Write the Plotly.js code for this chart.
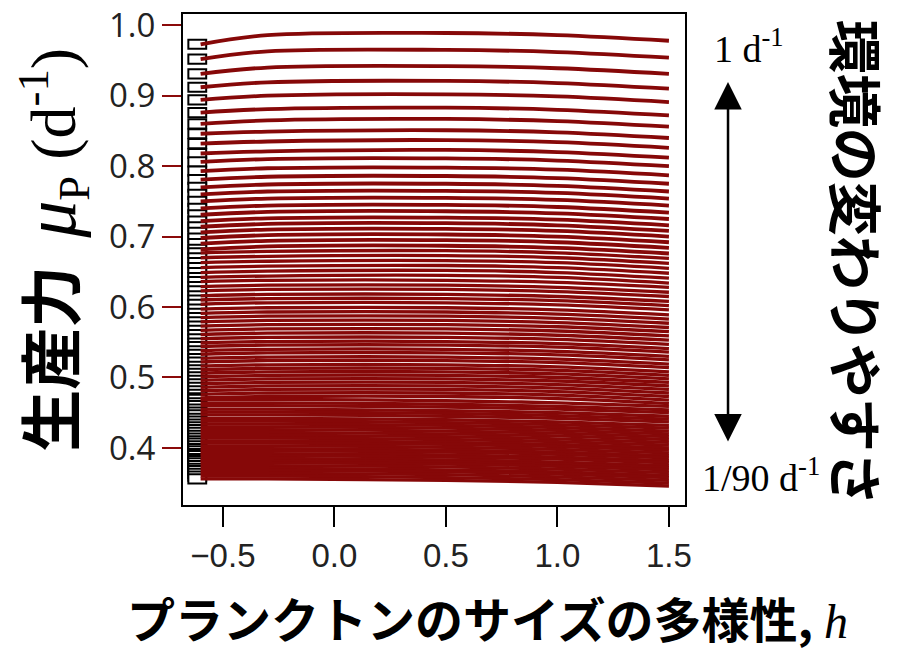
<!DOCTYPE html>
<html>
<head>
<meta charset="utf-8">
<script src="https://cdn.plot.ly/plotly-3.0.1.min.js"></script>
<style>html,body{margin:0;padding:0;background:#fff;}#chart{width:897px;height:651px;}</style>
</head>
<body>
<div id="chart"></div>
<script>
// diversity h at which each curve is sampled
const hValues = [-0.6, -0.3, 0.5, 1.0, 1.5];

// productivity mu_P of each curve (one entry per environmental period, 1 d^-1 ... 1/90 d^-1)
const muAtHm06 = [0.973,0.952,0.931,0.912,0.894,0.876,0.860,0.846,0.832,0.818,0.806,0.793,0.781,0.770,0.760,0.750,0.740,0.731,0.722,0.714,0.706,0.698,0.690,0.682,
0.677,0.670,0.663,0.656,0.649,0.642,0.636,0.629,0.623,0.616,0.610,0.604,0.597,0.591,0.585,0.579,0.573,0.567,0.561,0.555,0.549,0.544,0.538,0.533,0.527,0.522,
0.516,0.511,0.506,0.501,0.496,0.491,0.486,0.481,0.476,0.471,0.469,0.464,0.460,0.455,0.451,0.447,0.442,0.438,0.434,0.430,0.426,0.422,0.418,0.414,0.410,0.407,
0.403,0.399,0.396,0.392,0.389,0.385,0.382,0.379,0.375,0.371,0.368,0.364,0.360,0.356];
const muAtHm03 = [0.986,0.963,0.940,0.919,0.900,0.881,0.865,0.849,0.835,0.821,0.810,0.797,0.785,0.774,0.764,0.754,0.744,0.735,0.726,0.718,0.710,0.702,0.694,0.686,
0.679,0.672,0.665,0.658,0.651,0.644,0.638,0.631,0.625,0.618,0.612,0.606,0.599,0.593,0.587,0.581,0.575,0.569,0.563,0.557,0.551,0.546,0.540,0.535,0.529,0.524,
0.518,0.513,0.508,0.503,0.498,0.493,0.488,0.483,0.478,0.473,0.469,0.464,0.460,0.455,0.451,0.447,0.442,0.438,0.434,0.430,0.426,0.422,0.418,0.414,0.410,0.407,
0.403,0.399,0.396,0.392,0.389,0.385,0.382,0.379,0.375,0.371,0.368,0.364,0.360,0.356];
const muAtH05 = [0.989,0.965,0.942,0.921,0.902,0.883,0.867,0.851,0.837,0.823,0.811,0.798,0.786,0.775,0.765,0.755,0.745,0.736,0.727,0.719,0.711,0.703,0.695,0.687,
0.680,0.673,0.666,0.659,0.652,0.645,0.638,0.631,0.625,0.618,0.612,0.606,0.599,0.593,0.587,0.581,0.575,0.569,0.563,0.557,0.551,0.546,0.540,0.535,0.529,0.524,
0.518,0.513,0.508,0.503,0.498,0.493,0.488,0.483,0.478,0.473,0.467,0.462,0.458,0.453,0.449,0.445,0.440,0.436,0.432,0.428,0.424,0.420,0.416,0.412,0.408,0.405,
0.401,0.397,0.394,0.390,0.387,0.383,0.380,0.377,0.373,0.369,0.366,0.362,0.358,0.354];
const muAtH10 = [0.986,0.962,0.939,0.918,0.899,0.880,0.864,0.848,0.834,0.820,0.808,0.795,0.783,0.772,0.762,0.752,0.742,0.733,0.724,0.716,0.708,0.700,0.692,0.684,
0.677,0.670,0.663,0.656,0.649,0.642,0.635,0.628,0.622,0.615,0.609,0.603,0.596,0.590,0.584,0.578,0.572,0.566,0.560,0.554,0.548,0.543,0.537,0.532,0.526,0.521,
0.515,0.510,0.505,0.500,0.495,0.490,0.485,0.480,0.475,0.470,0.464,0.459,0.455,0.450,0.446,0.442,0.437,0.433,0.429,0.425,0.421,0.417,0.413,0.409,0.405,0.402,
0.398,0.394,0.391,0.387,0.384,0.380,0.377,0.374,0.370,0.366,0.363,0.359,0.355,0.351];
const muAtH15 = [0.978,0.954,0.931,0.910,0.891,0.872,0.856,0.840,0.826,0.812,0.800,0.787,0.775,0.764,0.754,0.744,0.734,0.725,0.716,0.708,0.700,0.692,0.684,0.676,
0.669,0.662,0.655,0.648,0.641,0.634,0.628,0.621,0.615,0.608,0.602,0.596,0.589,0.583,0.577,0.571,0.565,0.559,0.553,0.547,0.541,0.536,0.530,0.525,0.519,0.514,
0.508,0.503,0.498,0.493,0.488,0.483,0.478,0.473,0.468,0.463,0.459,0.454,0.450,0.445,0.441,0.437,0.432,0.428,0.424,0.420,0.416,0.412,0.408,0.404,0.400,0.397,
0.393,0.389,0.386,0.382,0.379,0.375,0.372,0.369,0.365,0.361,0.358,0.354,0.350,0.346];

const xTickVals = [-0.5, 0.0, 0.5, 1.0, 1.5];
const yTickVals = [0.4, 0.5, 0.6, 0.7, 0.8, 0.9, 1.0];

const traces = [];
// column of small boxes at the start of every curve
traces.push({
  type: 'bar', orientation: 'h',
  y: muAtHm06,
  x: muAtHm06.map(() => 0.08),
  base: -0.655,
  width: 0.013,
  marker: {color: '#ffffff', line: {color: '#000000', width: 2}},
  hoverinfo: 'skip', showlegend: false
});
for (let i = 0; i < muAtH15.length; i++) {
  traces.push({
    type: 'scatter', mode: 'lines',
    x: hValues,
    y: [muAtHm06[i], muAtHm03[i], muAtH05[i], muAtH10[i], muAtH15[i]],
    line: {color: '#860808', width: i < 24 ? 3.8 : 3.3, shape: 'spline', smoothing: 1},
    hoverinfo: 'skip', showlegend: false
  });
}

const cjk = '"Noto Sans CJK JP", "Noto Sans CJK SC", sans-serif';
const serif = 'font-family:Liberation Serif;font-weight:normal';
const layout = {
  width: 897, height: 651,
  margin: {l: 183, r: 212, t: 14, b: 146},
  paper_bgcolor: '#ffffff', plot_bgcolor: '#ffffff',
  showlegend: false,
  bargap: 0,
  xaxis: {
    range: [-0.679, 1.572], showgrid: false, zeroline: false,
    showline: true, mirror: true, linecolor: '#000', linewidth: 2,
    tickmode: 'array', tickvals: xTickVals, tickformat: '.1f',
    ticks: 'outside', ticklen: 20, tickwidth: 2, tickcolor: '#000',
    tickfont: {family: 'Liberation Sans, Arial, sans-serif', size: 33, color: '#222'}
  },
  yaxis: {
    range: [0.319, 1.016], showgrid: false, zeroline: false,
    showline: true, mirror: true, linecolor: '#000', linewidth: 2,
    tickmode: 'array', tickvals: yTickVals, tickformat: '.1f',
    ticks: 'outside', ticklen: 19, tickwidth: 2, tickcolor: '#8b0a0a',
    tickfont: {family: '"Open Sans", sans-serif', size: 33, color: '#222'}
  },
  annotations: [
    {xref: 'paper', yref: 'paper', x: -0.264, y: 0.521, textangle: -90, showarrow: false,
     xanchor: 'center', yanchor: 'middle',
     text: '<b>生産力</b>&nbsp;&nbsp;<span style="' + serif + ';font-size:74px"><i>μ</i></span><span style="' + serif + ';font-size:64px"><sub>P</sub>&nbsp;(d<sup>-1</sup>)</span>',
     font: {family: cjk, size: 62, color: '#000'}},
    {xref: 'paper', yref: 'paper', x: 0.6056, y: -0.229, showarrow: false,
     xanchor: 'center', yanchor: 'middle',
     text: '<b>プランクトンのサイズの多様性,</b> <span style="' + serif + '"><i>h</i></span>',
     font: {family: cjk, size: 48, color: '#000'}},
    {xref: 'paper', yref: 'paper', x: 1.343, y: 0.493, textangle: 90, showarrow: false,
     xanchor: 'center', yanchor: 'middle',
     text: '<b>環境の変わりやすさ</b>',
     font: {family: cjk, size: 54, color: '#000'}},
    {xref: 'paper', yref: 'paper', x: 1.128, y: 0.935, showarrow: false,
     xanchor: 'center', yanchor: 'middle',
     text: '1 d<sup>-1</sup>',
     font: {family: 'Liberation Serif, serif', size: 38, color: '#000'}},
    {xref: 'paper', yref: 'paper', x: 1.152, y: 0.062, showarrow: false,
     xanchor: 'center', yanchor: 'middle',
     text: '1/90 d<sup>-1</sup>',
     font: {family: 'Liberation Serif, serif', size: 38, color: '#000'}},
    {xref: 'paper', yref: 'paper', x: 1.0857, y: 0.8615, ax: 0, ay: 361, axref: 'pixel', ayref: 'pixel',
     text: '', showarrow: true, arrowside: 'end+start', arrowhead: 2, arrowsize: 2.2, arrowwidth: 2.5, arrowcolor: '#000'}
  ]
};
Plotly.newPlot('chart', traces, layout, {staticPlot: true});
</script>
</body>
</html>
